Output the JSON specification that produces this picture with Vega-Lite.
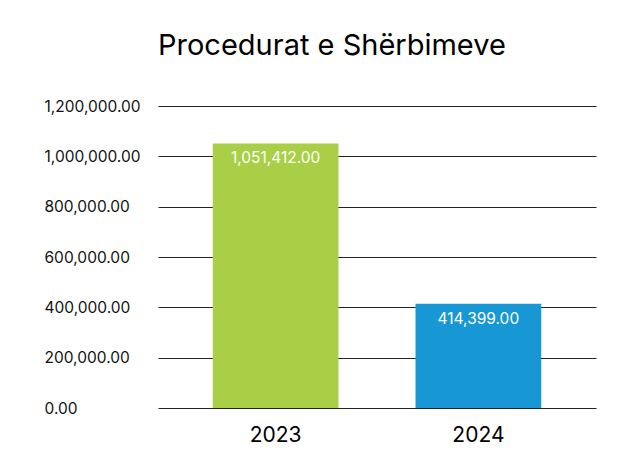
{
  "$schema": "https://vega.github.io/schema/vega-lite/v6.json",
  "width": 438,
  "height": 302,
  "padding": {"left": 44, "top": 32, "right": 10, "bottom": 10},
  "background": "white",
  "title": {
    "text": "Procedurat e Shërbimeve",
    "font": "Inter",
    "fontSize": 29,
    "fontWeight": "normal",
    "color": "#000000",
    "anchor": "start",
    "frame": "group",
    "offset": 38
  },
  "data": {
    "values": [
      {"year": "2023", "value": 1051412},
      {"year": "2024", "value": 414399}
    ]
  },
  "config": {
    "view": {"stroke": null},
    "font": "Inter"
  },
  "encoding": {
    "x": {
      "field": "year",
      "type": "nominal",
      "scale": {"paddingInner": 0.38, "paddingOuter": 0.27},
      "axis": {
        "title": null,
        "labelAngle": 0,
        "labelFont": "Inter",
        "labelFontSize": 21,
        "labelColor": "#000000",
        "labelPadding": 16,
        "ticks": false,
        "domain": false
      }
    },
    "y": {
      "field": "value",
      "type": "quantitative",
      "scale": {"domain": [0, 1200000]},
      "axis": {
        "title": null,
        "values": [0, 200000, 400000, 600000, 800000, 1000000, 1200000],
        "format": ",.2f",
        "labelFont": "Inter",
        "labelFontSize": 15.5,
        "labelColor": "#111111",
        "labelAlign": "left",
        "labelPadding": 114,
        "ticks": false,
        "tickSize": 0,
        "domain": false,
        "grid": true,
        "gridColor": "#222222",
        "gridWidth": 1
      }
    }
  },
  "layer": [
    {
      "mark": {"type": "bar"},
      "encoding": {
        "color": {
          "field": "year",
          "type": "nominal",
          "scale": {"domain": ["2023", "2024"], "range": ["#A8CF45", "#1897D5"]},
          "legend": null
        }
      }
    },
    {
      "mark": {"type": "text", "baseline": "top", "dy": 8, "color": "white", "fontSize": 15.5, "font": "Inter"},
      "encoding": {
        "text": {"field": "value", "type": "quantitative", "format": ",.2f"}
      }
    }
  ]
}
